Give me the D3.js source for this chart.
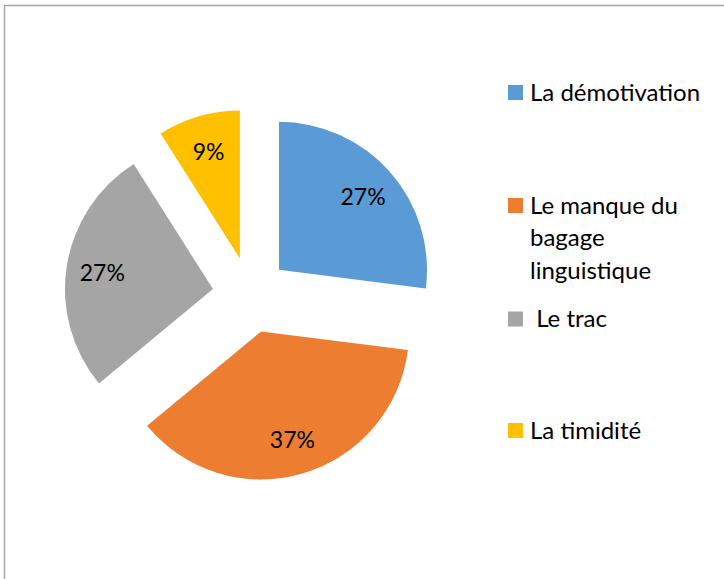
<!DOCTYPE html>
<html><head><meta charset="utf-8">
<script src="https://cdn.jsdelivr.net/npm/d3@7"></script>
<style>body{margin:0;background:#fff}svg{display:block}text{font-family:Lato,"Noto Sans",sans-serif}</style>
</head><body>
<script>
const categories = ["La démotivation", "Le manque du bagage linguistique", " Le trac", "La timidité"];
const values = [27, 37, 27, 9];
const labels = ["27%", "37%", "27%", "9%"];
const legendLines = [["La démotivation"], ["Le manque du", "bagage", "linguistique"], [" Le trac"], ["La timidité"]];
const colors = ["#5B9BD5", "#ED7D31", "#A5A5A5", "#FFC000"];

const W = 724, H = 579;
const svg = d3.select("body").append("svg").attr("width", W).attr("height", H);
svg.append("rect").attr("x", 4.5).attr("y", 5.5).attr("width", 800).attr("height", 700)
  .attr("fill", "#fff").attr("stroke", "#a6a6a6").attr("stroke-width", 1.5);

const cx = 250.5, cy = 295, r = 148, explode = 38;
const pie = d3.pie().sort(null).value(d => d)(values);
const arc = d3.arc().innerRadius(0).outerRadius(r);
const labelArc = d3.arc().innerRadius(112).outerRadius(112);

const g = svg.append("g").attr("transform", `translate(${cx},${cy})`);
const slices = g.selectAll("g.slice").data(pie).join("g").attr("class", "slice")
  .attr("transform", d => {
    const m = (d.startAngle + d.endAngle) / 2;
    return `translate(${explode * Math.sin(m)},${-explode * Math.cos(m)})`;
  });
slices.append("path").attr("d", arc).attr("fill", (d, i) => colors[i]);
slices.append("text").attr("transform", d => `translate(${labelArc.centroid(d)})`)
  .attr("text-anchor", "middle").attr("dominant-baseline", "central")
  .attr("font-size", 23).attr("fill", "#000").text((d, i) => labels[i]);

const legY = [92.5, 205.5, 319, 430.5];
const leg = svg.append("g");
legendLines.forEach((lines, i) => {
  leg.append("rect").attr("x", 508).attr("y", legY[i] - 7.5).attr("width", 15).attr("height", 15).attr("fill", colors[i]);
  const t = leg.append("text").attr("x", 530).attr("y", legY[i] + 8).attr("font-size", 24).attr("fill", "#000")
    .attr("xml:space", "preserve").style("white-space", "pre");
  lines.forEach((ln, j) => {
    t.append("tspan").attr("x", 530).attr("dy", j === 0 ? 0 : 32.5).text(ln);
  });
});
</script>
</body></html>
